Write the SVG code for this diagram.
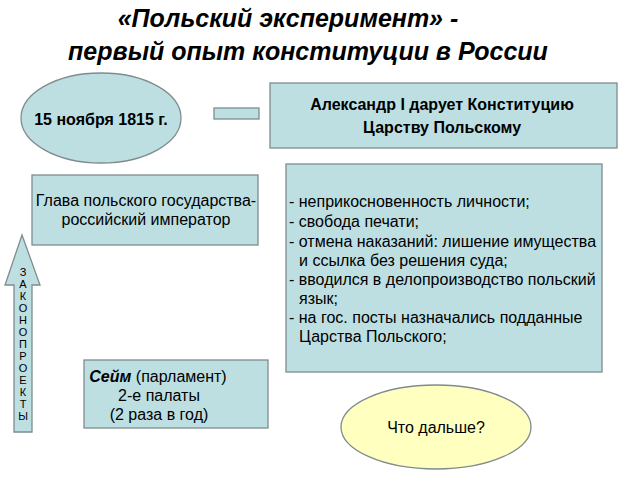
<svg xmlns="http://www.w3.org/2000/svg" width="640" height="480" viewBox="0 0 640 480">
<style>
.b{fill:#bddfe2;stroke:#7f8c8e;stroke-width:1.3}
text{font-family:"Liberation Sans",Arial,sans-serif;fill:#000}
.t{font-size:25px;font-weight:bold;font-style:italic;text-anchor:middle}
.c{text-anchor:middle;font-size:16px}
.l{font-size:16px}
.v{font-size:11px;text-anchor:middle}
</style>
<rect width="640" height="480" fill="#fff"/>
<text class="t" x="288" y="27" font-size="22">«Польский эксперимент» -</text>
<text class="t" x="308" y="60">первый опыт конституции в России</text>
<g id="date"><ellipse class="b" cx="101" cy="118" rx="80" ry="45"/><text class="c" x="101" y="125" font-weight="bold" font-size="19">15 ноября 1815 г.</text></g>
<g id="connectors"><rect class="b" x="214" y="108" width="45" height="11"/></g>
<g id="alex"><rect class="b" x="270" y="83" width="347" height="65"/><text class="c" x="442" y="110" font-weight="bold" font-size="18.5">Александр I дарует Конституцию</text><text class="c" x="442" y="133" font-weight="bold" font-size="18.5">Царству Польскому</text></g>
<g id="head"><rect class="b" x="32" y="175" width="226" height="70"/><text class="c" x="146" y="206" font-size="15.3">Глава польского государства-</text><text class="c" x="146" y="225" font-size="15.3">российский император</text></g>
<g id="rights"><rect class="b" x="286" y="164" width="316" height="208"/>
<text class="l" x="289" y="207">- неприкосновенность личности;</text>
<text class="l" x="289" y="227">- свобода печати;</text>
<text class="l" x="289" y="247">- отмена наказаний: лишение имущества</text>
<text class="l" x="299" y="266">и ссылка без решения суда;</text>
<text class="l" x="289" y="285">- вводился в делопроизводство польский</text>
<text class="l" x="299" y="304">язык;</text>
<text class="l" x="289" y="323">- на гос. посты назначались подданные</text>
<text class="l" x="299" y="342">Царства Польского;</text></g>
<g id="arrow"><path class="b" d="M22,235 L40,285 L32,285 L32,432 L14,432 L14,285 L5,285 Z"/>
<g class="v"><text x="23" y="276">З</text><text x="23" y="288">А</text><text x="23" y="300">К</text><text x="23" y="312">О</text><text x="23" y="324">Н</text><text x="23" y="336">О</text><text x="23" y="348">П</text><text x="23" y="360">Р</text><text x="23" y="372">О</text><text x="23" y="384">Е</text><text x="23" y="396">К</text><text x="23" y="408">Т</text><text x="23" y="420">Ы</text></g></g>
<g id="sejm"><rect class="b" x="84" y="360" width="184" height="68"/><text class="c" x="158" y="382"><tspan font-weight="bold" font-style="italic">Сейм</tspan> (парламент)</text><text class="c" x="159" y="401">2-е палаты</text><text class="c" x="159" y="420">(2 раза в год)</text></g>
<g id="next"><ellipse cx="436" cy="427" rx="95" ry="42" fill="#ffffc0" stroke="#7f8c8e" stroke-width="1.3"/><text class="c" x="436" y="433">Что дальше?</text></g>
</svg>
